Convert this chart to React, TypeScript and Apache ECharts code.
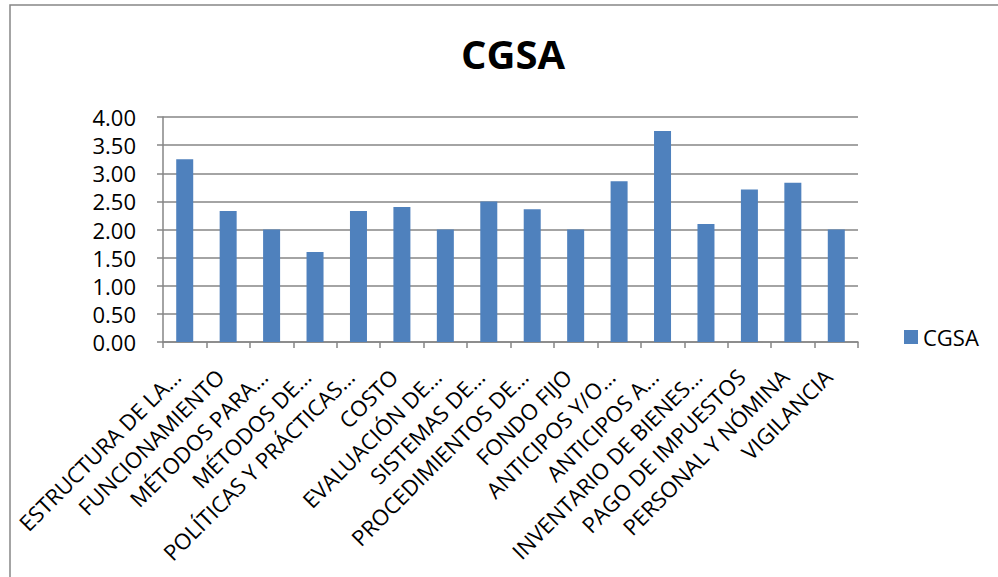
import React, { useEffect, useRef } from "react";
import * as echarts from "echarts";

const categories = [
  "ESTRUCTURA DE LA…",
  "FUNCIONAMIENTO",
  "MÉTODOS PARA…",
  "MÉTODOS DE…",
  "POLÍTICAS Y PRÁCTICAS…",
  "COSTO",
  "EVALUACIÓN DE…",
  "SISTEMAS DE…",
  "PROCEDIMIENTOS DE…",
  "FONDO FIJO",
  "ANTICIPOS Y/O…",
  "ANTICIPOS A…",
  "INVENTARIO DE BIENES…",
  "PAGO DE IMPUESTOS",
  "PERSONAL Y NÓMINA",
  "VIGILANCIA",
];

const cgsaValues = [3.25, 2.33, 2.0, 1.6, 2.33, 2.4, 2.0, 2.5, 2.36, 2.0, 2.86, 3.75, 2.1, 2.71, 2.83, 2.0];

const seriesName = "CGSA";
const titleText = "CGSA";

export default function App() {
  const ref = useRef<HTMLDivElement>(null);
  useEffect(() => {
    if (!ref.current) return;
    const chart = echarts.init(ref.current, null, { renderer: "svg" });
    const font = "'Open Sans', sans-serif";
    chart.setOption({
      animation: false,
      backgroundColor: "#ffffff",
      title: {
        text: titleText,
        left: 508,
        textAlign: "center",
        top: 28,
        textStyle: { fontFamily: font, fontSize: 40, fontWeight: "bold", color: "#000" },
      },
      legend: {
        data: [seriesName],
        left: 899,
        top: 321,
        orient: "vertical",
        icon: "rect",
        itemWidth: 14,
        itemHeight: 14,
        itemGap: 8,
        textStyle: { fontFamily: font, fontSize: 22, color: "#000" },
      },
      grid: { left: 163, right: 140, top: 117, bottom: 235, containLabel: false },
      xAxis: {
        type: "category",
        data: categories,
        boundaryGap: true,
        axisLine: { lineStyle: { color: "#868686", width: 1.5 } },
        axisTick: { show: true, alignWithLabel: false, length: 6, lineStyle: { color: "#868686", width: 1.5 } },
        axisLabel: {
          interval: 0,
          rotate: 45,
          margin: 22,
          padding: [0, 12, 0, 0],
          fontFamily: font,
          fontSize: 22,
          lineHeight: 24,
          color: "#000",
        },
      },
      yAxis: {
        type: "value",
        min: 0,
        max: 4,
        interval: 0.5,
        axisLine: { show: true, lineStyle: { color: "#868686", width: 1.5 } },
        axisTick: { show: true, length: 6, lineStyle: { color: "#868686", width: 1.5 } },
        splitLine: { lineStyle: { color: "#868686", width: 1.5 } },
        axisLabel: {
          margin: 27,
          fontFamily: font,
          fontSize: 22,
          lineHeight: 24,
          color: "#000",
          formatter: (v: number) => v.toFixed(2),
        },
      },
      series: [
        {
          name: seriesName,
          type: "bar",
          data: cgsaValues,
          barWidth: 17,
          itemStyle: { color: "#4F81BD" },
        },
      ],
      graphic: [
        {
          type: "rect",
          shape: { x: 10, y: 5, width: 1000, height: 700 },
          style: { fill: "none", stroke: "#868686", lineWidth: 1.5 },
          silent: true,
          z: 100,
        },
      ],
    });
    return () => chart.dispose();
  }, []);
  return (
    <div
      ref={ref}
      style={{ position: "fixed", left: 0, top: 0, width: 998, height: 577 }}
    />
  );
}
